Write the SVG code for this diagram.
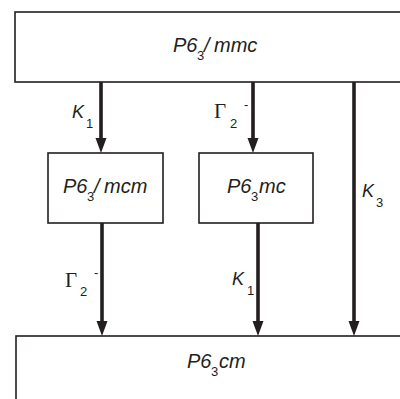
<svg xmlns="http://www.w3.org/2000/svg" width="400" height="399" viewBox="0 0 400 399">
<style>
.box{fill:#fff;stroke:#231f20;stroke-width:1.6}
.t{font-family:"Liberation Sans",Arial,sans-serif;font-style:italic;font-size:20px;fill:#231f20}
.k{font-family:"Liberation Sans",Arial,sans-serif;font-style:italic;font-size:18px;fill:#231f20}
.s{font-family:"Liberation Sans",Arial,sans-serif;font-style:normal;font-size:13px;fill:#231f20}
.g{font-family:"Liberation Serif","Times New Roman",serif;font-style:normal;font-size:21px;fill:#231f20}
.c{stroke:#231f20;stroke-width:3.6;fill:none}
</style>
<defs>
<marker id="ah" markerUnits="userSpaceOnUse" markerWidth="16" markerHeight="12" viewBox="0 0 16 12" refX="7" refY="6" orient="auto">
<path d="M0,0.5 L15,6 L0,11.5 z" fill="#231f20"/>
</marker>
</defs>
<rect width="400" height="399" fill="#fff"/>
<g id="connectors">
<line class="c" x1="101" y1="82" x2="101" y2="145" marker-end="url(#ah)"/>
<line class="c" x1="253" y1="82" x2="253" y2="145" marker-end="url(#ah)"/>
<line class="c" x1="354" y1="82" x2="354" y2="328" marker-end="url(#ah)"/>
<line class="c" x1="102" y1="223" x2="102" y2="328" marker-end="url(#ah)"/>
<line class="c" x1="258" y1="223" x2="258" y2="328" marker-end="url(#ah)"/>
</g>
<g id="labels">
<text class="k" x="72" y="118">K</text><text class="s" x="86" y="128">1</text>
<text class="g" x="214" y="118">Γ</text><text class="s" x="230" y="128">2</text><text class="s" x="244" y="109">-</text>
<text class="k" x="362" y="197">K</text><text class="s" x="376" y="207">3</text>
<text class="g" x="65" y="287">Γ</text><text class="s" x="80" y="296">2</text><text class="s" x="94" y="277">-</text>
<text class="k" x="232" y="285">K</text><text class="s" x="247" y="295">1</text>
</g>
<g id="node-top">
<rect class="box" x="15" y="12" width="400" height="70"/>
<text class="t" y="52"><tspan x="173">P6</tspan><tspan class="s" x="197" y="60">3</tspan><tspan x="204" y="52">/</tspan><tspan x="214">mmc</tspan></text>
</g>
<g id="node-mcm">
<rect class="box" x="48" y="153" width="115" height="70"/>
<text class="t" y="193"><tspan x="63">P6</tspan><tspan class="s" x="87" y="201">3</tspan><tspan x="94" y="193">/</tspan><tspan x="104">mcm</tspan></text>
</g>
<g id="node-mc">
<rect class="box" x="199" y="153" width="114" height="70"/>
<text class="t" y="193"><tspan x="227">P6</tspan><tspan class="s" x="251" y="201">3</tspan><tspan x="259" y="193">mc</tspan></text>
</g>
<g id="node-bottom">
<rect class="box" x="16" y="336" width="400" height="80"/>
<text class="t" y="368"><tspan x="187">P6</tspan><tspan class="s" x="211" y="376">3</tspan><tspan x="219" y="368">cm</tspan></text>
</g>
</svg>
